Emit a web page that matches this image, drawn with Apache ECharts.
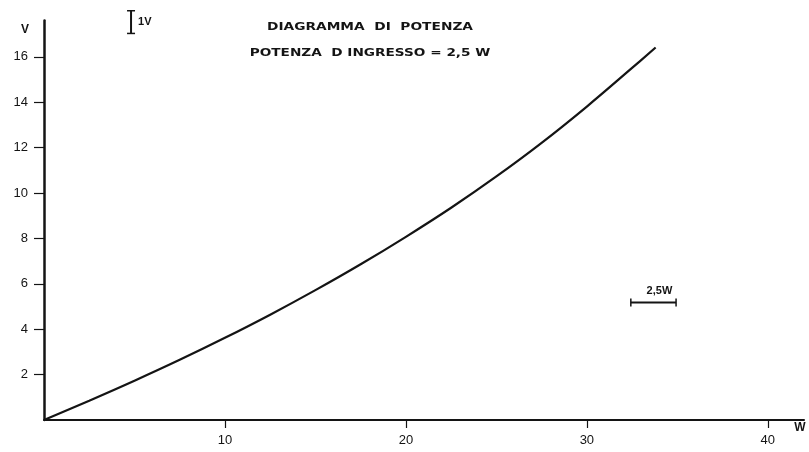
<!DOCTYPE html>
<html>
<head>
<meta charset="utf-8">
<title>Diagramma di potenza</title>
<script src="https://cdn.jsdelivr.net/npm/echarts@6/dist/echarts.min.js"></script>
<style>
  html, body { margin: 0; padding: 0; background: #fff; }
  #chart { width: 809px; height: 452px; }
</style>
</head>
<body>
<div id="chart"></div>
<script>
// Output power (W) against output voltage (V)
const powerW   = [0, 2.5, 5, 7.5, 10, 12.5, 15, 17.5, 20, 22.5, 25, 27.5, 30, 32.5, 33.8];
const voltageV = [0, 0.85, 1.73, 2.65, 3.62, 4.64, 5.72, 6.86, 8.07, 9.35, 10.73, 12.21, 13.81, 15.51, 16.41];

const xTickLabels = [10, 20, 30, 40];
const yTickLabels = [2, 4, 6, 8, 10, 12, 14, 16];

const titleLines = ['DIAGRAMMA  DI  POTENZA', 'POTENZA  D INGRESSO = 2,5 W'];

// Scale bars: start point (W, V), extent along each axis, caption
const scaleBarStartW = [4.81, 32.43];
const scaleBarStartV = [17.03, 5.18];
const scaleBarSpanW  = [0, 2.5];
const scaleBarSpanV  = [1, 0];
const scaleBarText   = ['1V', '2,5W'];

const INK = '#141414';
const FONT = '"Liberation Sans", Arial, sans-serif';
const TITLE_FONT = 'bold 11px "DejaVu Sans", sans-serif';

const chart = echarts.init(document.getElementById('chart'), null, { renderer: 'canvas' });

const curve = powerW.map((w, i) => [w, voltageV[i]]);
const bars = scaleBarStartW.map((w, i) => [w, scaleBarStartV[i], scaleBarSpanW[i], scaleBarSpanV[i]]);

function renderScaleBar(params, api) {
  const w = api.value(0), v = api.value(1), dw = api.value(2), dv = api.value(3);
  const p0 = api.coord([w, v]);
  const p1 = api.coord([w + dw, v + dv]);
  const vertical = dw === 0;
  const cap = 4;
  const children = [
    { type: 'line', shape: { x1: p0[0], y1: p0[1], x2: p1[0], y2: p1[1] },
      style: { stroke: INK, lineWidth: 2 } }
  ];
  [p0, p1].forEach(p => {
    children.push({
      type: 'line',
      shape: vertical
        ? { x1: p[0] - cap, y1: p[1], x2: p[0] + cap, y2: p[1] }
        : { x1: p[0], y1: p[1] - cap, x2: p[0], y2: p[1] + cap },
      style: { stroke: INK, lineWidth: 1.5 }
    });
  });
  const text = scaleBarText[params.dataIndex];
  children.push({
    type: 'text',
    style: vertical
      ? { text, x: p0[0] + 7, y: (p0[1] + p1[1]) / 2, align: 'left', verticalAlign: 'middle',
          fill: INK, font: 'bold 11px ' + FONT }
      : { text, x: (p0[0] + p1[0]) / 2 + 6, y: p0[1] - 6, align: 'center', verticalAlign: 'bottom',
          fill: INK, font: 'bold 11px ' + FONT }
  });
  return { type: 'group', children };
}

const option = {
  backgroundColor: '#fff',
  animation: false,
  grid: { left: 44, right: 5, top: 20.5, bottom: 32, containLabel: false },
  xAxis: {
    type: 'value',
    min: 0, max: 42, interval: 10,
    splitLine: { show: false },
    axisLine: { show: true, onZero: false, lineStyle: { color: INK, width: 2 } },
    axisTick: { show: true, customValues: xTickLabels, length: 8, inside: false,
                lineStyle: { color: INK, width: 1.2 } },
    axisLabel: { customValues: xTickLabels, margin: 14, color: INK, fontSize: 13, fontFamily: FONT }
  },
  yAxis: {
    type: 'value',
    min: 0, max: 17.6, interval: 2,
    splitLine: { show: false },
    axisLine: { show: true, onZero: false, lineStyle: { color: INK, width: 2.5 } },
    axisTick: { show: true, customValues: yTickLabels, length: 10, inside: false,
                lineStyle: { color: INK, width: 1.2 } },
    axisLabel: { customValues: yTickLabels, margin: 16, color: INK, fontSize: 13, fontFamily: FONT }
  },
  graphic: [
    { type: 'text', x: 370, y: 27, scaleX: 1.25,
      style: { text: titleLines[0], align: 'center', verticalAlign: 'middle', fill: INK, font: TITLE_FONT } },
    { type: 'text', x: 370, y: 53, scaleX: 1.24,
      style: { text: titleLines[1], align: 'center', verticalAlign: 'middle', fill: INK, font: TITLE_FONT } },
    { type: 'text', x: 25, y: 30,
      style: { text: 'V', align: 'center', verticalAlign: 'middle', fill: INK, font: 'bold 12px ' + FONT } },
    { type: 'text', x: 800, y: 428,
      style: { text: 'W', align: 'center', verticalAlign: 'middle', fill: INK, font: 'bold 12px ' + FONT } }
  ],
  series: [
    {
      type: 'line',
      data: curve,
      smooth: 0.4,
      showSymbol: false,
      lineStyle: { color: INK, width: 2.2 },
      clip: false
    },
    {
      type: 'custom',
      data: bars,
      renderItem: renderScaleBar,
      clip: false,
      silent: true
    }
  ]
};

chart.setOption(option);
</script>
</body>
</html>
